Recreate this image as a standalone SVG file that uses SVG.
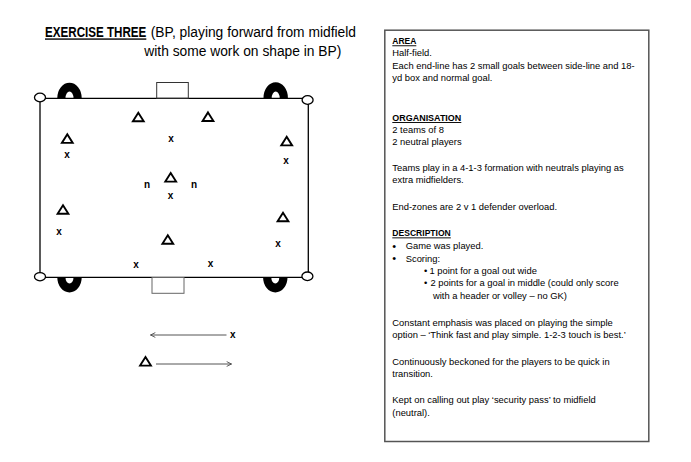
<svg xmlns="http://www.w3.org/2000/svg" xmlns:xlink="http://www.w3.org/1999/xlink" width="691" height="462" viewBox="0 0 691 462">
<style>
text { font-family: "Liberation Sans", Arial, sans-serif; fill: #000; }
.title { font-size: 13.8px; }
.tb { font-size: 9.4px; }
.bul { font-size: 11px; }
.hd { font-size: 9.4px; font-weight: bold; text-decoration: underline; }
.pl { font-size: 10px; font-weight: bold; text-anchor: middle; }
.fld { fill: none; stroke: #000; stroke-width: 1.3; }
.post { fill: #fff; stroke: #000; stroke-width: 1.3; }
.arch { fill: #000; }
.conn { fill: none; stroke: #555; stroke-width: 1; }
</style>
<defs>
<path id="tri" d="M0,-4 L5.4,4.6 L-5.4,4.6 Z" fill="none" stroke="#000" stroke-width="1.9"/>
<marker id="open" viewBox="0 0 10 10" refX="9" refY="5" markerWidth="6" markerHeight="6" orient="auto">
<path d="M1,1 L9,5 L1,9" fill="none" stroke="#444" stroke-width="1.4"/>
</marker>
</defs>
<rect width="691" height="462" fill="#fff"/>

<!-- Title -->
<g id="title">
<text class="title" transform="translate(45,37.3) scale(0.842,1)" x="0" y="0" font-weight="bold" text-decoration="underline">EXERCISE THREE</text>
<text class="title" x="150.7" y="37.3">(BP, playing forward from midfield</text>
<text class="title" x="144.3" y="55.7">with some work on shape in BP)</text>
</g>

<!-- Field -->
<g id="field">
<line class="fld" x1="40" y1="98.3" x2="308" y2="98.3"/>
<line class="fld" x1="40" y1="277.3" x2="308" y2="277.3"/>
<line class="fld" x1="40" y1="98" x2="40" y2="277.5"/>
<line class="fld" x1="308.3" y1="100" x2="308.3" y2="277"/>
<rect x="156.7" y="82.5" width="31.6" height="15.8" fill="none" stroke="#333" stroke-width="1"/>
<rect x="152" y="277.5" width="32" height="15.8" fill="none" stroke="#666" stroke-width="1"/>
<path class="arch" d="M57.3,98 A12.2,15.3 0 0 1 81.7,98 L73.5,98 A4,6.5 0 0 0 65.5,98 Z"/>
<path class="arch" d="M263.5,98 A12.2,15.8 0 0 1 287.9,98 L279.7,98 A4,6.5 0 0 0 271.7,98 Z"/>
<path class="arch" d="M57.3,277.6 A12.2,14.8 0 0 0 81.7,277.6 L73.5,277.6 A4,6 0 0 1 65.5,277.6 Z"/>
<path class="arch" d="M263.1,277.6 A12.2,14.8 0 0 0 287.5,277.6 L279.3,277.6 A4,6 0 0 1 271.3,277.6 Z"/>
<ellipse class="post" cx="40" cy="97.5" rx="5.5" ry="4.3"/>
<ellipse class="post" cx="307.6" cy="100" rx="5.5" ry="4.3"/>
<ellipse class="post" cx="40" cy="276.7" rx="5.5" ry="4.1"/>
<ellipse class="post" cx="307.4" cy="276.3" rx="5.5" ry="4.3"/>
</g>

<!-- Players: triangles -->
<g id="tri1"><use xlink:href="#tri" href="#tri" x="138.3" y="116.7"/></g>
<g id="tri2"><use xlink:href="#tri" href="#tri" x="208" y="116.4"/></g>
<g id="tri3"><use xlink:href="#tri" href="#tri" x="67.3" y="138.3"/></g>
<g id="tri4"><use xlink:href="#tri" href="#tri" x="286.7" y="140.8"/></g>
<g id="tri5"><use xlink:href="#tri" href="#tri" x="170.7" y="177"/></g>
<g id="tri6"><use xlink:href="#tri" href="#tri" x="63" y="209.2"/></g>
<g id="tri7"><use xlink:href="#tri" href="#tri" x="283" y="216.7"/></g>
<g id="tri8"><use xlink:href="#tri" href="#tri" x="167.8" y="239.2"/></g>

<!-- Players: x -->
<g id="x1"><text class="pl" x="171" y="141.6">x</text></g>
<g id="x2"><text class="pl" x="67" y="157.6">x</text></g>
<g id="x3"><text class="pl" x="286" y="163.6">x</text></g>
<g id="x4"><text class="pl" x="170.5" y="198.6">x</text></g>
<g id="x5"><text class="pl" x="59" y="234.6">x</text></g>
<g id="x6"><text class="pl" x="278" y="246.6">x</text></g>
<g id="x7"><text class="pl" x="136" y="267.6">x</text></g>
<g id="x8"><text class="pl" x="210.5" y="266.6">x</text></g>

<!-- Neutrals -->
<g id="n1"><text class="pl" x="147" y="187.6">n</text></g>
<g id="n2"><text class="pl" x="194" y="187.6">n</text></g>

<!-- Legend -->
<g id="legend-x"><text class="pl" x="232.7" y="337.6">x</text></g>
<g id="legend-tri"><use xlink:href="#tri" href="#tri" x="145.5" y="361"/></g>
<g id="connectors">
<line class="conn" x1="226.5" y1="335" x2="150.5" y2="335" marker-end="url(#open)"/>
<line class="conn" x1="156" y1="364" x2="231.5" y2="364" marker-end="url(#open)"/>
</g>

<!-- Notes box -->
<g id="notes">
<rect x="384.8" y="30.2" width="264" height="411.3" fill="#fff" stroke="#555" stroke-width="1.5"/>
<text class="hd" x="392.3" y="44.3" textLength="24" lengthAdjust="spacingAndGlyphs">AREA</text>
<text class="tb" x="392.3" y="56.3">Half-field.</text>
<text class="tb" x="392.3" y="68.5">Each end-line has 2 small goals between side-line and 18-</text>
<text class="tb" x="392.3" y="80.7">yd box and normal goal.</text>
<text class="hd" x="392.3" y="121" textLength="69" lengthAdjust="spacingAndGlyphs">ORGANISATION</text>
<text class="tb" x="392.3" y="133.3">2 teams of 8</text>
<text class="tb" x="392.3" y="145.3">2 neutral players</text>
<text class="tb" x="392.3" y="170.5">Teams play in a 4-1-3 formation with neutrals playing as</text>
<text class="tb" x="392.3" y="182.7">extra midfielders.</text>
<text class="tb" x="392.3" y="210.4">End-zones are 2 v 1 defender overload.</text>
<text class="hd" x="392.3" y="236.4" textLength="58.5" lengthAdjust="spacingAndGlyphs">DESCRIPTION</text>
<text class="bul" x="392.2" y="250">•</text>
<text class="tb" x="405.7" y="249.4">Game was played.</text>
<text class="bul" x="392.2" y="262.3">•</text>
<text class="tb" x="405.7" y="261.7">Scoring:</text>
<text class="tb" x="424" y="274.1">•</text>
<text class="tb" x="429.5" y="274.1">1 point for a goal out wide</text>
<text class="tb" x="424" y="286.4">•</text>
<text class="tb" x="430.5" y="286.4">2 points for a goal in middle (could only score</text>
<text class="tb" x="433" y="298.9">with a header or volley – no GK)</text>
<text class="tb" x="392.3" y="326">Constant emphasis was placed on playing the simple</text>
<text class="tb" x="392.3" y="338.4">option – ‘Think fast and play simple. 1-2-3 touch is best.’</text>
<text class="tb" x="392.3" y="365">Continuously beckoned for the players to be quick in</text>
<text class="tb" x="392.3" y="377.4">transition.</text>
<text class="tb" x="392.3" y="403.4">Kept on calling out play ‘security pass’ to midfield</text>
<text class="tb" x="392.3" y="415.6">(neutral).</text>
</g>
</svg>
